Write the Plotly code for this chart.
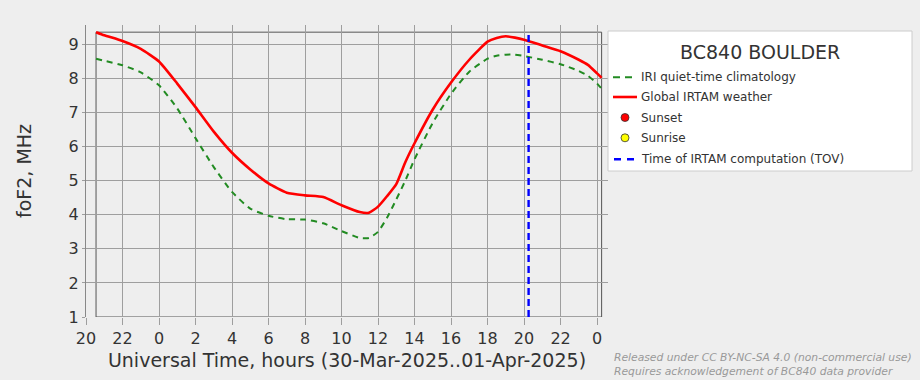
import plotly.graph_objects as go

# ---- data ----
hours = [20.55, 21, 22, 23, 24, 25, 26, 27, 28, 29, 30, 31, 32, 33, 34, 35, 35.5,
         36, 36.5, 37, 37.5, 38, 39, 40, 41, 42, 42.5, 43, 43.5, 44, 45, 46, 47,
         47.5, 48, 48.25]
irtam_weather = [9.36, 9.27, 9.10, 8.87, 8.50, 7.85, 7.16, 6.44, 5.82, 5.33, 4.92,
                 4.65, 4.57, 4.52, 4.28, 4.08, 4.06, 4.24, 4.55, 4.90, 5.55, 6.10,
                 7.09, 7.88, 8.55, 9.08, 9.19, 9.24, 9.20, 9.14, 8.97, 8.80, 8.55,
                 8.40, 8.15, 8.02]
iri_climatology = [8.58, 8.52, 8.39, 8.18, 7.80, 7.12, 6.25, 5.40, 4.67, 4.18, 3.97,
                   3.87, 3.86, 3.75, 3.52, 3.32, 3.32, 3.50, 3.92, 4.45, 5.01, 5.63,
                   6.70, 7.55, 8.20, 8.58, 8.67, 8.70, 8.70, 8.66, 8.55, 8.42, 8.22,
                   8.08, 7.85, 7.70]
tov_hour = 44.25
tick_vals = [20, 22, 24, 26, 28, 30, 32, 34, 36, 38, 40, 42, 44, 46, 48]
tick_text = ["20", "22", "0", "2", "4", "6", "8", "10", "12", "14", "16", "18",
             "20", "22", "0"]
y_ticks = [1, 2, 3, 4, 5, 6, 7, 8, 9]

station = "BC840 BOULDER"
x_title = "Universal Time, hours (30-Mar-2025..01-Apr-2025)"
y_title = "foF2, MHz"
legend_names = ["IRI quiet-time climatology", "Global IRTAM weather", "Sunset",
                "Sunrise", "Time of IRTAM computation (TOV)"]
footer = ["Released under CC BY-NC-SA 4.0 (non-commercial use)",
          "Requires acknowledgement of BC840 data provider"]

FONT = "DejaVu Sans"
TXT = "#333333"
GRID = "#9e9e9e"
BG = "#eeeeee"
GREEN = "#228b22"
RED = "#ff0000"
BLUE = "#0000ff"

W, H = 920, 380
ML, MR, MT, MB = 86, 312, 25, 63
PW, PH = W - ML - MR, H - MT - MB


def px(xp):
    return (xp - ML) / PW


def py(yp):
    return (H - MB - yp) / PH


fig = go.Figure()
fig.add_trace(go.Scatter(x=hours, y=iri_climatology, mode="lines",
                         name=legend_names[0], showlegend=False,
                         line=dict(color=GREEN, width=2, dash="6px,5px",
                                   shape="spline", smoothing=0.5)))
fig.add_trace(go.Scatter(x=hours, y=irtam_weather, mode="lines",
                         name=legend_names[1], showlegend=False,
                         line=dict(color=RED, width=2.6, shape="spline",
                                   smoothing=0.5)))
top_val = max(irtam_weather)
fig.add_trace(go.Scatter(x=[tov_hour, tov_hour], y=[y_ticks[0], top_val], mode="lines",
                         name=legend_names[4], showlegend=False,
                         line=dict(color=BLUE, width=2.4, dash="7px,4px")))

# inner data frame
fig.add_shape(type="rect", xref="x", yref="y", x0=hours[0], x1=hours[-1],
              y0=y_ticks[0], y1=top_val, line=dict(color="#555555", width=1),
              layer="below")

# ---- legend box (drawn) ----
fig.add_shape(type="rect", xref="paper", yref="paper", x0=px(608), x1=px(912),
              y0=py(171), y1=py(31), fillcolor="white",
              line=dict(color="#cccccc", width=1), layer="above")
fig.add_annotation(xref="paper", yref="paper", x=px(760), y=py(52), text=station,
                   showarrow=False, xanchor="center", yanchor="middle",
                   font=dict(size=19, color=TXT, family=FONT))
rows = [77.3, 97, 117.5, 137.8, 159.3]
fig.add_shape(type="line", xref="paper", yref="paper", x0=px(613), x1=px(637),
              y0=py(rows[0]), y1=py(rows[0]),
              line=dict(color=GREEN, width=2, dash="7px,5px"))
fig.add_shape(type="line", xref="paper", yref="paper", x0=px(613), x1=px(637),
              y0=py(rows[1]), y1=py(rows[1]), line=dict(color=RED, width=2.6))
for r, c in ((rows[2], RED), (rows[3], "#ffff00")):
    fig.add_shape(type="circle", xref="paper", yref="paper", x0=px(621), x1=px(629),
                  y0=py(r + 4), y1=py(r - 4), fillcolor=c,
                  line=dict(color="#333333", width=0.8))
fig.add_shape(type="line", xref="paper", yref="paper", x0=px(614), x1=px(634),
              y0=py(rows[4]), y1=py(rows[4]),
              line=dict(color=BLUE, width=2.4, dash="7px,6px"))
for r, name in zip(rows, legend_names):
    fig.add_annotation(xref="paper", yref="paper", x=px(639), y=py(r), text=name,
                       showarrow=False, xanchor="left", yanchor="middle",
                       font=dict(size=12, color=TXT, family=FONT))

fig.add_annotation(xref="paper", yref="paper", x=px(613), y=py(364),
                   xanchor="left", yanchor="middle", align="left", showarrow=False,
                   borderpad=0,
                   text="<i>" + footer[0] + "<br>" + footer[1] + "</i>",
                   font=dict(size=10.75, color="#999999", family=FONT))

fig.update_layout(
    width=W, height=H,
    margin=dict(l=ML, r=MR, t=MT, b=MB, autoexpand=False),
    paper_bgcolor=BG, plot_bgcolor=BG,
    font=dict(family=FONT, color=TXT),
    showlegend=False,
    xaxis=dict(range=[20, 48.6], tickvals=tick_vals, ticktext=tick_text,
               showgrid=True, gridcolor=GRID, gridwidth=1, zeroline=False,
               ticks="outside", ticklen=7, tickcolor=GRID, automargin=False,
               tickfont=dict(size=16), showline=False,
               title=dict(text=x_title, font=dict(size=19), standoff=6)),
    yaxis=dict(range=[1, 9.57], tickvals=y_ticks, showgrid=True, gridcolor=GRID,
               gridwidth=1, zeroline=False, ticks="outside", ticklen=3,
               tickcolor=GRID, tickfont=dict(size=16), showline=True,
               linecolor="#888888", linewidth=1, automargin=False,
               title=dict(text=y_title, font=dict(size=19), standoff=31)),
)

fig.write_html("out.html", config={"displayModeBar": False},
               post_script="document.body.style.margin='0';"
                           "document.body.style.padding='0';"
                           "document.body.style.overflow='hidden';")
